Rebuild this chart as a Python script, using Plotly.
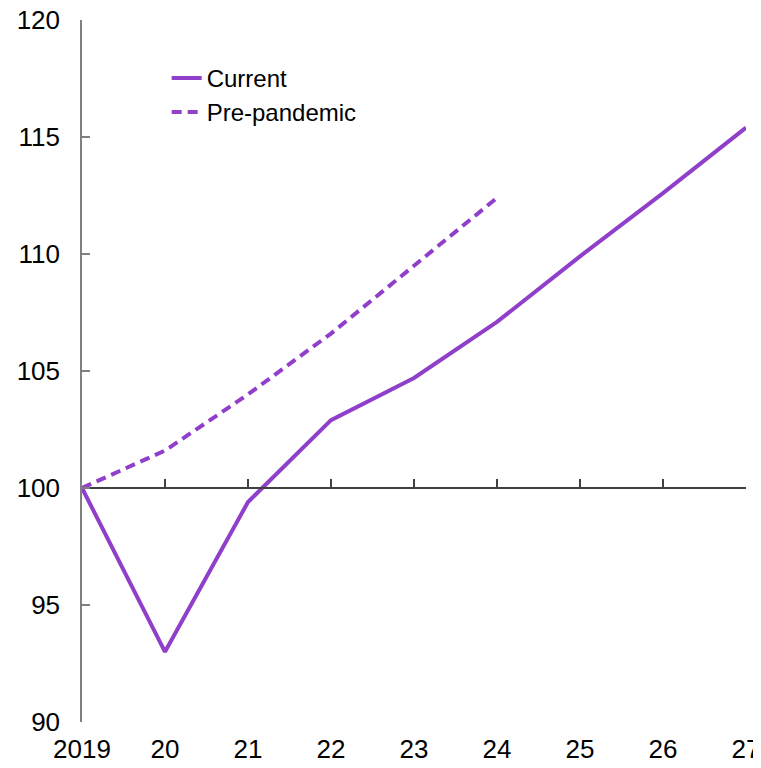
import plotly.graph_objects as go

# index levels, 2019 = 100
years        = ["2019", "20", "21", "22", "23", "24", "25", "26", "27"]
current      = [100.0, 93.0, 99.4, 102.9, 104.7, 107.1, 109.9, 112.6, 115.4]
pre_years    = ["2019", "20", "21", "22", "23", "24"]
pre_pandemic = [100.0, 101.6, 104.0, 106.6, 109.5, 112.4]

y_ticks = [90, 95, 100, 105, 110, 115, 120]

PURPLE = "#8f3fc9"
FONT   = "Liberation Sans, Arial, sans-serif"

fig = go.Figure()

fig.add_trace(go.Scatter(
    x=years, y=current, mode="lines", name="Current",
    line=dict(color=PURPLE, width=4),
))
fig.add_trace(go.Scatter(
    x=pre_years, y=pre_pandemic, mode="lines", name="Pre-pandemic",
    line=dict(color=PURPLE, width=4, dash="10px,6px"),
))

# page adds ~8px body margin top/left, margins below account for that
fig.update_layout(
    width=761, height=768,
    margin=dict(l=74, r=23, t=12, b=54),
    paper_bgcolor="white", plot_bgcolor="white",
    font=dict(family=FONT, size=24, color="black"),
    showlegend=True,
    legend=dict(
        x=0.1275, y=0.949, xanchor="left", yanchor="top",
        font=dict(size=24), bgcolor="rgba(0,0,0,0)",
        tracegroupgap=0,
    ),
    # bottom axis carries the labels only
    xaxis=dict(
        type="category", categoryorder="array", categoryarray=years,
        range=[0, 8], showline=False, showgrid=False, zeroline=False,
        ticks="", ticklabelstandoff=9, automargin=False,
        tickfont=dict(size=26),
    ),
    # axis line drawn through 100
    xaxis2=dict(
        type="category", categoryorder="array", categoryarray=years,
        matches="x", overlaying="x", anchor="free", position=1/3,
        showline=True, linecolor="#404040", linewidth=1.5,
        ticks="inside", ticklen=8, tickcolor="#404040", tickwidth=1.5,
        showticklabels=False, showgrid=False, zeroline=False, automargin=False,
    ),
    yaxis=dict(
        range=[90, 120], tickvals=y_ticks, showgrid=False, zeroline=False,
        showline=True, linecolor="#808080", linewidth=1.5,
        ticks="inside", ticklen=8, tickcolor="#808080", tickwidth=1.5,
        ticklabelstandoff=15, automargin=False,
        ticklabeloverflow="allow", tickfont=dict(size=26),
    ),
)

# dummy invisible trace so xaxis2 gets drawn
fig.add_trace(go.Scatter(x=years, y=current, xaxis="x2", mode="lines",
                         line=dict(width=0), showlegend=False, hoverinfo="skip",
                         opacity=0))

fig.write_html("out.html")
